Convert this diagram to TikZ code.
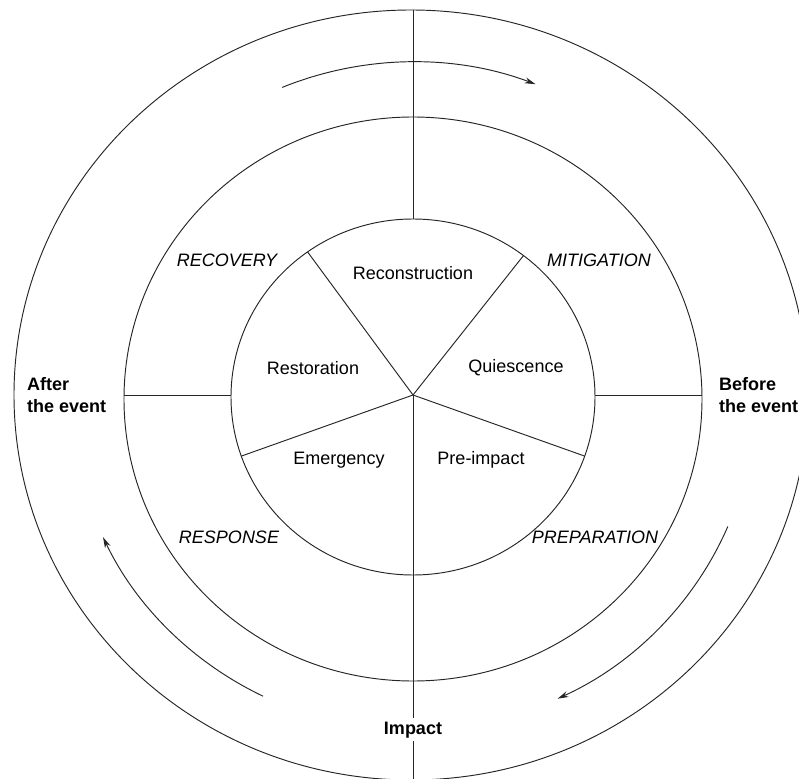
\documentclass[tikz,border=0pt]{standalone}
\usepackage{fontspec}
\setmainfont{Liberation Sans}
\usetikzlibrary{shapes.geometric,arrows.meta}
\begin{document}
\begin{tikzpicture}[x=1pt,y=1pt,
  ring/.style={ellipse,draw,inner sep=0pt,outer sep=0pt},
  ln/.style={draw=black!85,line width=0.95pt},
  flow/.style={draw=black!85,line width=0.95pt,-{Stealth[length=11pt,width=6pt]}},
  phase/.style={font=\fontsize{18}{22}\selectfont},
  stage/.style={font=\fontsize{18}{22}\selectfont\itshape},
  side/.style={font=\fontsize{18}{22}\selectfont\bfseries,align=left,inner sep=0pt}
]
\useasboundingbox (-413,-382) rectangle (386,396);
\clip (-413,-382) rectangle (386,396);
% rings
\node[ring,ln,minimum width=794,minimum height=770] (outer) at (-2,1) {};
\node[ring,ln,minimum width=578,minimum height=564] (middle) at (0,-3) {};
\node[ring,ln,minimum width=364,minimum height=356] (inner) at (0,-1) {};
\coordinate (c) at (0,1);
% spokes
\draw[ln] (c) -- (inner.126);
\draw[ln] (c) -- (inner.52);
\draw[ln] (c) -- (inner.-19);
\draw[ln] (c) -- (inner.199);
% axis lines
\draw[ln] (inner.90) -- (inner.90 |- outer.north);
\draw[ln] (c -| middle.west) -- (c -| inner.west);
\draw[ln] (c -| inner.east) -- (c -| middle.east);
\node[side,anchor=north,text height=13pt,text depth=4pt,inner sep=3pt] (impact) at (0,-322) {Impact};
\draw[ln] (c) -- (impact.north);
\draw[ln] (impact.south) -- (impact.south |- outer.south);
% labels
\node[phase] (recon) at (0,123) {Reconstruction};
\node[phase] (resto) at (-100,28) {Restoration};
\node[phase] (quies) at (103,28) {Quiescence};
\node[phase] (emerg) at (-74,-64) {Emergency};
\node[phase] (preim) at (68,-64) {Pre-impact};
\node[stage] (recov) at (-186,136) {RECOVERY};
\node[stage] (mitig) at (186,136) {MITIGATION};
\node[stage] (respo) at (-184,-141) {RESPONSE};
\node[stage] (prepa) at (182,-141) {PREPARATION};
\node[side,anchor=west] (after) at (-386,1) {After\\the event};
\node[side,anchor=west] (before) at (306,1) {Before\\the event};
% cycle arrows
\coordinate (a1) at (112.5:342 and 334);
\coordinate (a2) at (-23:342 and 334);
\coordinate (a3) at (244:342 and 334);
\draw[flow] (a1) arc[start angle=112.5,end angle=69,x radius=342,y radius=334];
\draw[flow] (a2) arc[start angle=-23,end angle=-65,x radius=342,y radius=334];
\draw[flow] (a3) arc[start angle=244,end angle=205,x radius=342,y radius=334];
\end{tikzpicture}
\end{document}
